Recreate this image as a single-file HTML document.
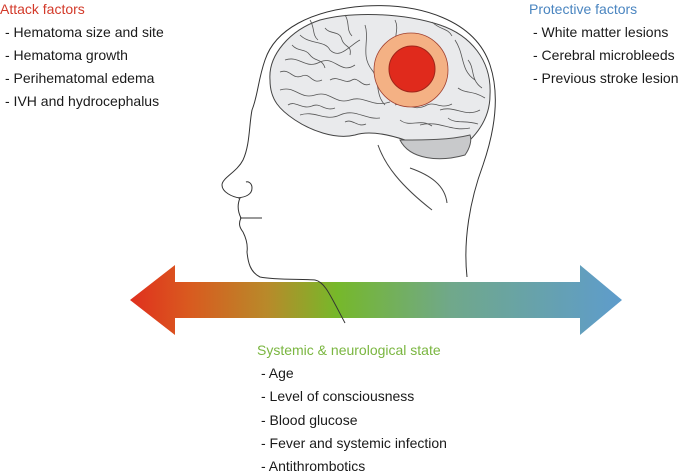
<!DOCTYPE html>
<html><head><meta charset="utf-8"><style>
html,body{margin:0;padding:0;background:#fff;}
svg{display:block;}
text{font-family:"Liberation Sans",Arial,sans-serif;font-size:14px;fill:#1a1a1a;dominant-baseline:central;}
</style></head><body>
<svg width="685" height="475" viewBox="0 0 685 475" xmlns="http://www.w3.org/2000/svg">
<defs>
<linearGradient id="g" x1="130" y1="0" x2="622" y2="0" gradientUnits="userSpaceOnUse">
<stop offset="0" stop-color="#e0301e"/>
<stop offset="0.12" stop-color="#d95a1f"/>
<stop offset="0.28" stop-color="#b88a2a"/>
<stop offset="0.42" stop-color="#76b82a"/>
<stop offset="0.65" stop-color="#70a88a"/>
<stop offset="1" stop-color="#5e9ccc"/>
</linearGradient>
</defs>
<polygon points="130,300 175,265 175,282 580,282 580,265 622,300 580,335 580,318 175,318 175,335" fill="url(#g)"/>
<path d="M467,277 C463,240 470,200 483,165 C495,130 500,95 490,65 C475,20 420,3 365,6 C310,10 275,30 265,60 C258,80 258,95 252,110 C249,125 250,145 243,160 C237,172 222,178 222,185 C222,192 232,197 240,198 C237,205 238,212 241,218 C238,224 240,228 243,232 C246,238 248,245 247,252 C248,262 250,272 260,277 C275,280 300,279 315,280 C325,282 330,295 345,323" fill="none" stroke="#333" stroke-width="1"/>
<path d="M240,218 L262,218" stroke="#333" stroke-width="1" fill="none"/>
<path d="M238,198 C245,197 252,195 252,188 C252,183 248,181 246,182" stroke="#333" stroke-width="1" fill="none"/>
<path d="M270,80 C268,55 290,30 320,20 C350,12 400,12 440,25 C470,35 492,60 490,95 C490,115 480,130 470,140 C450,150 420,146 405,140 C390,135 370,130 355,135 C335,140 310,130 295,120 C280,110 270,100 270,80 Z" fill="#e9eaec" stroke="#444" stroke-width="1"/>
<path d="M400,140 C410,160 440,162 465,155 C470,148 472,140 470,135 C450,140 425,140 400,140 Z" fill="#c8c9cb" stroke="#555" stroke-width="1"/>
<path d="M378,145 C385,165 400,185 432,210 M410,168 C430,175 445,185 447,203" fill="none" stroke="#444" stroke-width="1"/>
<g fill="none" stroke="#555" stroke-width="0.8">
<path d="M285,60 C300,55 305,70 320,62 C335,55 340,75 355,65"/>
<path d="M300,35 C310,45 325,40 330,50 C340,60 350,45 360,40"/>
<path d="M280,90 C295,85 300,100 315,95 C330,90 335,105 350,100 C365,95 372,108 390,102"/>
<path d="M300,115 C315,110 325,122 340,115 C355,108 365,120 380,118"/>
<path d="M365,25 C370,40 360,55 372,70 C380,80 375,95 385,105"/>
<path d="M440,110 C455,105 465,118 480,110 M420,125 C440,120 450,132 470,128"/>
<path d="M455,40 C465,55 460,70 475,80"/>
<path d="M280,72 C290,68 292,80 302,76 C310,72 312,85 322,80"/>
<path d="M325,28 C330,35 340,30 342,40 C345,48 352,45 350,55"/>
<path d="M292,45 C298,52 305,48 310,55 C315,62 322,58 325,68"/>
<path d="M330,80 C338,75 345,85 352,80 C358,76 362,88 370,84"/>
<path d="M288,105 C295,100 302,110 312,106 C320,102 325,112 335,108"/>
<path d="M345,122 C352,118 358,128 366,124"/>
<path d="M395,20 C400,30 392,38 398,46 M432,22 C440,30 448,28 452,36"/>
<path d="M395,105 C405,100 412,112 425,106 C435,100 440,110 452,104"/>
<path d="M468,60 C475,68 470,80 482,88 M458,88 C466,94 472,90 485,98"/>
<path d="M400,120 C410,128 420,118 432,126 M448,118 C455,124 465,120 478,124"/>
<path d="M310,20 C315,28 312,35 318,40 M345,15 C350,22 346,30 352,36"/>
</g>
<circle cx="411" cy="70" r="37" fill="#f4b184" stroke="#a04030" stroke-width="0.8"/>
<circle cx="412" cy="69" r="23" fill="#e02a1c" stroke="#a0251a" stroke-width="1"/>
<text x="0" y="9" style="fill:#d33a2a">Attack factors</text>
<text x="5" y="32">- Hematoma size and site</text>
<text x="5" y="55">- Hematoma growth</text>
<text x="5" y="78">- Perihematomal edema</text>
<text x="5" y="101">- IVH and hydrocephalus</text>
<text x="529" y="9" style="fill:#4a85c0">Protective factors</text>
<text x="533" y="32">- White matter lesions</text>
<text x="533" y="55">- Cerebral microbleeds</text>
<text x="533" y="78">- Previous stroke lesion</text>
<text x="257" y="350" style="fill:#7ab640">Systemic &amp; neurological state</text>
<text x="261" y="373">- Age</text>
<text x="261" y="396">- Level of consciousness</text>
<text x="261" y="420">- Blood glucose</text>
<text x="261" y="443">- Fever and systemic infection</text>
<text x="261" y="466">- Antithrombotics</text>
</svg>
</body></html>
